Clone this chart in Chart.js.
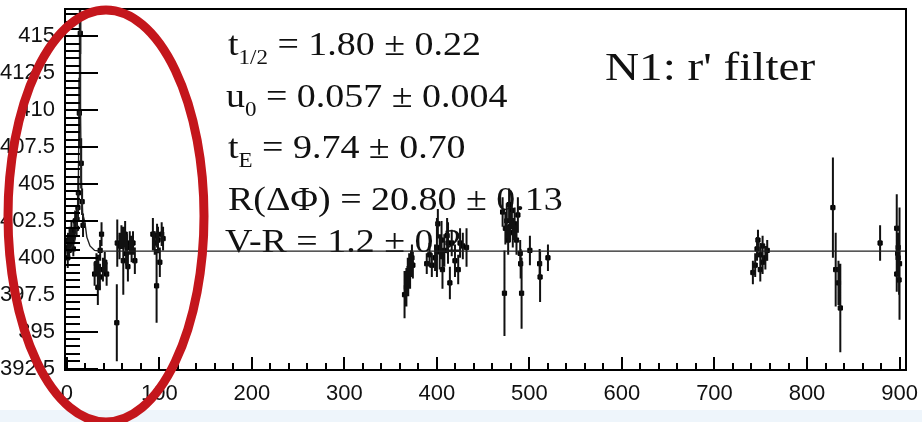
<!DOCTYPE html>
<html>
<head>
<meta charset="utf-8">
<script src="https://cdn.jsdelivr.net/npm/chart.js@4"></script>
<style>
  html, body { margin: 0; padding: 0; background: #fff; }
  #wrap { position: relative; width: 922px; height: 422px; overflow: hidden; }
  #strip { position: absolute; left: 0; top: 410px; width: 922px; height: 12px; background: #eef5fb; }
  #mycanvas { position: absolute; left: 0; top: 0; }
</style>
</head>
<body>
<div id="wrap">
  <div id="strip"></div>
  <canvas id="mycanvas" width="922" height="422"></canvas>
</div>
<script>
// tick labels
const xTicks = [0, 100, 200, 300, 400, 500, 600, 700, 800, 900];
const yTicks = [392.5, 395, 397.5, 400, 402.5, 405, 407.5, 410, 412.5, 415];

// measurements: time, value, error
const obsX = [
  0.5, 1, 1.5, 2.5, 3, 4, 5, 6, 7, 8, 9, 10.5, 11, 12, 12.5, 13.5, 14.5, 15.5, 16.5, 17.5,
  30, 32, 33.5, 34, 35.7, 36, 37.5, 39, 41, 43,
  54, 54.5, 57, 59, 61, 63, 64, 65, 66, 68, 70, 71.5, 73.5,
  93, 95, 97, 97.5, 98.5, 100.5, 102.5, 104,
  365, 367, 368.5, 369, 370, 371, 372, 373, 374,
  389, 392, 394.5, 398, 400, 401, 403, 405, 406, 408, 411, 412, 414, 416, 419.5, 423, 425, 428, 432,
  471, 473, 474, 475.5, 477, 478, 479, 481, 482, 484, 486, 487.5, 490, 490.5, 491.5, 500.5, 511, 511.5, 520,
  741.5, 744, 746, 747, 749.5, 749.5, 752, 752, 755, 757,
  828, 831, 834, 836,
  879,
  897, 898.5, 898.5, 898, 897, 899.5, 900
];
const obsY = [
  400.7, 400.0, 401.2, 400.5, 401.5, 400.9, 401.9, 401.2, 400.6, 401.8, 402.5, 402.0, 402.6, 403.4, 404.4, 409.8, 415.2, 406.4, 403.8, 402.2,
  398.9, 399.6, 398.0, 399.4, 398.7, 400.5, 401.6, 399.2, 399.7, 398.9,
  395.6, 401.0, 400.8, 401.4, 399.8, 401.6, 400.3, 400.7, 399.4, 401.0, 400.6, 401.0, 399.8,
  401.6, 401.0, 398.1, 401.5, 401.2, 399.7, 401.6, 401.3,
  397.5, 398.0, 398.8, 398.4, 399.3, 399.0, 399.6, 400.0, 399.5,
  399.6, 400.2, 399.5, 400.0, 400.7, 402.3, 400.4, 401.2, 399.2, 400.5, 401.5, 401.0, 398.3, 401.0, 399.8, 399.2, 401.0, 400.8, 400.7,
  403.1, 397.6, 402.0, 402.5, 401.2, 403.6, 402.1, 403.2, 401.7, 402.3, 401.2, 402.9, 400.3, 399.6, 397.6, 400.5, 399.6, 398.7, 400.0,
  399.0, 399.5, 400.6, 401.2, 400.2, 399.2, 399.7, 400.8, 400.0, 400.5,
  403.4, 399.2, 398.3, 396.6,
  401.0,
  402.0, 400.7, 400.0, 400.3, 398.9, 398.5, 399.6
];
const obsErr = [
  0.5, 0.7, 0.5, 0.5, 0.6, 0.5, 0.6, 0.5, 0.5, 0.6, 0.7, 0.6, 0.8, 0.9, 1.1, 2.4, 1.4, 1.7, 0.9, 0.8,
  0.8, 0.7, 1.2, 0.8, 0.9, 0.7, 0.8, 0.8, 0.7, 0.8,
  2.6, 1.6, 0.9, 0.8, 2.3, 0.9, 0.8, 0.9, 1.0, 0.8, 0.9, 0.8, 0.9,
  1.1, 0.8, 2.5, 0.8, 0.9, 1.0, 0.8, 0.8,
  1.6, 1.3, 1.2, 1.0, 1.0, 1.1, 0.9, 0.9, 0.9,
  0.7, 0.8, 0.8, 0.9, 2.0, 1.0, 1.2, 1.3, 1.3, 1.1, 1.2, 1.4, 1.1, 0.9, 1.1, 1.0, 1.0, 0.9, 1.3,
  1.0, 2.9, 1.1, 1.2, 1.0, 1.1, 1.0, 1.2, 1.0, 1.1, 1.0, 1.2, 0.9, 1.0, 2.4, 1.0, 1.0, 1.7, 0.9,
  0.8, 0.8, 0.8, 0.7, 0.8, 0.8, 0.8, 0.7, 0.8, 0.7,
  3.4, 2.5, 1.5, 3.0,
  1.2,
  2.3, 1.0, 1.2, 0.9, 1.2, 1.0, 3.8
];

// fitted light curve
const fitX = [-2, 4, 8, 10, 11.5, 12.5, 13.2, 13.7, 14.3, 14.8, 15.5, 17, 19.5, 21.6, 25, 30, 36, 907];
const fitY = [400.45, 400.6, 401.0, 401.6, 402.8, 405.5, 410, 417, 417, 410, 405.5, 403, 402.4, 401.4, 400.8, 400.5, 400.45, 400.45];

const fitLines = [
  { parts: [['t', 33, 0], ['1/2', 20, 9], [' = 1.80 \u00b1 0.22', 33, 0]], x: 228, y: 55 },
  { parts: [['u', 33, 0], ['0', 20, 9], [' = 0.057 \u00b1 0.004', 33, 0]], x: 226, y: 107 },
  { parts: [['t', 33, 0], ['E', 20, 9], [' = 9.74 \u00b1 0.70', 33, 0]], x: 228, y: 158 },
  { parts: [['R(\u0394\u03a6) = 20.80 \u00b1 0.13', 33, 0]], x: 228, y: 210 },
  { parts: [['V-R = 1.2 \u00b1 0.2', 33, 0]], x: 225, y: 252 }
];
const filterLabel = "N1: r' filter";

const points = obsX.map((x, i) => ({ x: x, y: obsY[i] }));
const bars = [];
obsX.forEach((x, i) => {
  bars.push({ x: x, y: obsY[i] - obsErr[i] });
  bars.push({ x: x, y: obsY[i] + obsErr[i] });
  bars.push({ x: x, y: null });
});
const fit = fitX.map((x, i) => ({ x: x, y: fitY[i] }));

const rootStyle = {
  id: 'rootStyle',
  beforeDatasetsDraw(chart) {
    const ctx = chart.ctx;
    ctx.save();
    ctx.fillStyle = '#111';
    ctx.textBaseline = 'alphabetic';
    fitLines.forEach(line => {
      ctx.save();
      ctx.translate(line.x, line.y);
      ctx.scale(1.15, 1);
      let cx = 0;
      line.parts.forEach(p => {
        ctx.font = p[1] + 'px "Liberation Serif"';
        ctx.fillText(p[0], cx, p[2]);
        cx += ctx.measureText(p[0]).width;
      });
      ctx.restore();
    });
    ctx.save();
    ctx.translate(605, 80);
    ctx.scale(1.15, 1);
    ctx.font = '41px "Liberation Serif"';
    ctx.fillText(filterLabel, 0, 0);
    ctx.restore();
    ctx.restore();
  },
  afterDraw(chart) {
    const ctx = chart.ctx;
    const a = chart.chartArea;
    const xs = chart.scales.x;
    const ys = chart.scales.y;
    ctx.save();
    ctx.strokeStyle = '#000';
    ctx.lineWidth = 2;
    ctx.beginPath();
    // inward ticks on the y axis
    for (let v = 392.5; v <= 416.5; v += 0.5) {
      const py = Math.round(ys.getPixelForValue(v));
      const len = yTicks.includes(v) ? 33 : 15;
      ctx.moveTo(a.left, py);
      ctx.lineTo(a.left + len, py);
    }
    // inward ticks on the x axis
    for (let v = 0; v <= 900; v += 20) {
      const px = Math.round(xs.getPixelForValue(v));
      const len = xTicks.includes(v) ? 13 : 7;
      ctx.moveTo(px, a.bottom);
      ctx.lineTo(px, a.bottom - len);
    }
    ctx.stroke();
    ctx.lineWidth = 2;
    ctx.strokeRect(a.left, a.top, a.right - a.left, a.bottom - a.top);
    // red hand-drawn ellipse
    ctx.strokeStyle = '#c4161c';
    ctx.lineWidth = 9;
    ctx.beginPath();
    ctx.ellipse(106, 216, 98, 206, 0, 0, Math.PI * 2);
    ctx.stroke();
    ctx.restore();
  }
};

new Chart(document.getElementById('mycanvas'), {
  type: 'scatter',
  data: {
    datasets: [
      {
        type: 'line',
        label: 'fit',
        data: fit,
        borderColor: '#222',
        borderWidth: 1.4,
        pointRadius: 0,
        fill: false
      },
      {
        type: 'line',
        label: 'errors',
        data: bars,
        borderColor: '#111',
        borderWidth: 2,
        pointRadius: 0,
        spanGaps: false,
        fill: false
      },
      {
        label: 'data',
        data: points,
        pointStyle: 'rect',
        pointRadius: 3,
        backgroundColor: '#000',
        borderColor: '#000',
        borderWidth: 1
      }
    ]
  },
  plugins: [rootStyle],
  options: {
    responsive: false,
    animation: false,
    devicePixelRatio: 1,
    layout: { padding: { top: 9, right: 16, left: 0, bottom: 0 } },
    plugins: {
      legend: { display: false },
      tooltip: { enabled: false }
    },
    scales: {
      x: {
        type: 'linear',
        min: -2,
        max: 907,
        border: { display: false },
        grid: { display: false, drawTicks: false },
        afterBuildTicks: s => { s.ticks = xTicks.map(v => ({ value: v })); },
        afterFit: s => { s.height = 52; s.paddingLeft = 0; s.paddingRight = 0; },
        ticks: {
          padding: 11,
          color: '#111',
          font: { family: 'Liberation Sans', size: 22 },
          maxRotation: 0,
          autoSkip: false
        }
      },
      y: {
        min: 392.4,
        max: 416.85,
        border: { display: false },
        grid: { display: false, drawTicks: false },
        afterBuildTicks: s => { s.ticks = yTicks.map(v => ({ value: v })); },
        afterFit: s => { s.width = 65; s.paddingTop = 0; s.paddingBottom = 0; },
        ticks: {
          padding: 10,
          color: '#111',
          font: { family: 'Liberation Sans', size: 22 },
          autoSkip: false,
          callback: v => (v % 1 ? v.toFixed(1) : String(v))
        }
      }
    }
  }
});
</script>
</body>
</html>
